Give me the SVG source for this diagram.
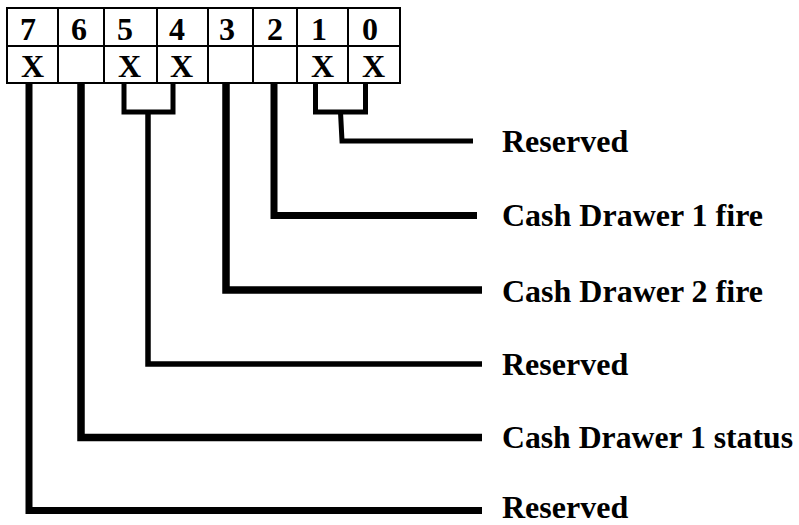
<svg xmlns="http://www.w3.org/2000/svg" width="799" height="525" viewBox="0 0 799 525">
<style>
.cell{fill:#fff;stroke:#000;stroke-width:2}
.t{font-family:"Liberation Serif","Times New Roman",serif;font-weight:bold;font-size:32px;fill:#000}
.c{fill:none;stroke:#000;stroke-linejoin:miter}
</style>
<rect width="799" height="525" fill="#fff"/>
<g id="bit7"><rect class="cell" x="7" y="8" width="51" height="38"/><rect class="cell" x="7" y="46" width="51" height="37"/><text class="t" x="20" y="40">7</text><text class="t" x="21" y="77">X</text></g>
<g id="bit6"><rect class="cell" x="58" y="8" width="46" height="38"/><rect class="cell" x="58" y="46" width="46" height="37"/><text class="t" x="71" y="40">6</text></g>
<g id="bit5"><rect class="cell" x="104" y="8" width="53" height="38"/><rect class="cell" x="104" y="46" width="53" height="37"/><text class="t" x="117" y="40">5</text><text class="t" x="118" y="77">X</text></g>
<g id="bit4"><rect class="cell" x="157" y="8" width="51" height="38"/><rect class="cell" x="157" y="46" width="51" height="37"/><text class="t" x="169" y="40">4</text><text class="t" x="170" y="77">X</text></g>
<g id="bit3"><rect class="cell" x="208" y="8" width="45" height="38"/><rect class="cell" x="208" y="46" width="45" height="37"/><text class="t" x="219" y="40">3</text></g>
<g id="bit2"><rect class="cell" x="253" y="8" width="44" height="38"/><rect class="cell" x="253" y="46" width="44" height="37"/><text class="t" x="267" y="40">2</text></g>
<g id="bit1"><rect class="cell" x="297" y="8" width="51" height="38"/><rect class="cell" x="297" y="46" width="51" height="37"/><text class="t" x="311" y="40">1</text><text class="t" x="311" y="77">X</text></g>
<g id="bit0"><rect class="cell" x="348" y="8" width="52" height="38"/><rect class="cell" x="348" y="46" width="52" height="37"/><text class="t" x="362" y="40">0</text><text class="t" x="362" y="77">X</text></g>
<g id="connectors">
<path class="c" stroke-width="5" d="M315.5 84 V112 H365.5 V84"/>
<path class="c" stroke-width="5" d="M340.5 112 L342 141 H473"/>
<path class="c" stroke-width="7" d="M274 84 V215.5 H477"/>
<path class="c" stroke-width="7.5" d="M226 84 V290 H482"/>
<path class="c" stroke-width="5" d="M124 84 V112 H173 V84"/>
<path class="c" stroke-width="5.5" d="M148 112 V364 H482"/>
<path class="c" stroke-width="7.5" d="M81 84 V437.5 H482"/>
<path class="c" stroke-width="7" d="M29 84 V510.5 H482"/>
</g>
<g id="label0"><text class="t" x="502" y="152">Reserved</text></g>
<g id="label1"><text class="t" x="502" y="226">Cash Drawer 1 fire</text></g>
<g id="label2"><text class="t" x="502" y="302">Cash Drawer 2 fire</text></g>
<g id="label3"><text class="t" x="502" y="375">Reserved</text></g>
<g id="label4"><text class="t" x="502" y="448" textLength="291" lengthAdjust="spacingAndGlyphs">Cash Drawer 1 status</text></g>
<g id="label5"><text class="t" x="502" y="518">Reserved</text></g>
</svg>
